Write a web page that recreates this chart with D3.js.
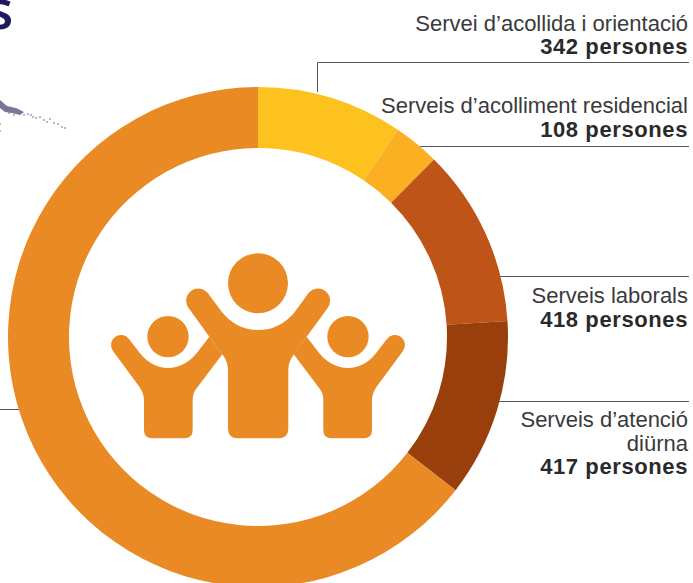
<!DOCTYPE html>
<html>
<head>
<meta charset="utf-8">
<script src="https://cdn.jsdelivr.net/npm/d3@7"></script>
<style>
  html, body { margin: 0; padding: 0; background: #fff; overflow: hidden; }
  text { font-family: "Liberation Sans Narrow", "Liberation Sans", sans-serif; fill: #3a3a3c; }
</style>
</head>
<body>
<div id="chart"></div>
<script>
const categories = [
  "Servei d’acollida i orientació",
  "Serveis d’acolliment residencial",
  "Serveis laborals",
  "Serveis d’atenció diürna",
  "Resta"
];
const persons = [342, 108, 418, 417, 2335];
const colors = ["#fec21f", "#fbb024", "#bf5419", "#983f0c", "#ea8a25"];

// label lines as they break in the original, one group per leader line
const labelNames = [
  ["Servei d’acollida i orientació"],
  ["Serveis d’acolliment residencial"],
  ["Serveis laborals"],
  ["Serveis d’atenció", "diürna"]
];
const labelValues = ["342 persones", "108 persones", "418 persones", "417 persones"];
const labelTops = [30.5, 113, 303, 427];

const width = 693;
const height = 583;
const center = { x: 258, y: 337 };

const svg = d3
  .select("#chart")
  .append("svg")
  .attr("width", width)
  .attr("height", height)
  .style("display", "block");

// title fragment cut by the page edge
svg
  .append("text")
  .attr("x", -13)
  .attr("y", 29)
  .style("font-family", "'Open Sans', sans-serif")
  .style("font-size", "54px")
  .style("font-weight", 600)
  .style("fill", "#1f1a5e")
  .text("s");

// brush stroke at the left edge
const brush = svg.append("g").attr("fill", "#7d7599");
brush
  .append("path")
  .attr("d", "M0,100 L7,106 L16,108 L24,112 L20,115 L12,113 L5,112 L0,108 Z");
const specks = [[9, 113], [14, 115], [24, 115], [28, 114], [31, 115], [33, 117], [36, 118], [40, 117], [44, 120], [47, 122], [50, 119], [54, 123], [58, 124], [62, 127], [65, 128], [0, 124], [0, 131]];
brush
  .selectAll("circle")
  .data(specks)
  .join("circle")
  .attr("cx", (d) => d[0])
  .attr("cy", (d) => d[1])
  .attr("r", 1)
  .attr("opacity", 0.7);

// leader lines go behind the ring
const leaders = [
  "M317.5,92 V62.5 H689",
  "M420,146.5 H689",
  "M495,276.5 H689",
  "M495,401.5 H689",
  "M0,409.5 H25"
];
svg
  .append("g")
  .selectAll("path")
  .data(leaders)
  .join("path")
  .attr("d", (d) => d)
  .attr("fill", "none")
  .attr("stroke", "#58585a")
  .attr("stroke-width", 1);

// ring
const pie = d3.pie().sort(null).value((d) => d);
const arc = d3.arc().innerRadius(189).outerRadius(250);

svg
  .append("g")
  .attr("transform", `translate(${center.x},${center.y})`)
  .selectAll("path")
  .data(pie(persons))
  .join("path")
  .attr("d", arc)
  .attr("fill", (d, i) => colors[i])
  .append("title")
  .text((d, i) => categories[i]);

// people icon, traced in 3x units
const icon = svg
  .append("g")
  .attr("transform", "translate(100,240) scale(0.3333)")
  .attr("fill", colors[4]);

icon.append("circle").attr("cx", 474).attr("cy", 130).attr("r", 90);
icon
  .append("path")
  .attr(
    "d",
    "M324,160 L365,215 Q410,270 474,270 Q540,270 585,215 L625,160 A36,36 0 0 1 683,204 L620,290 L582,343 Q565,365 565,390 L565,565 Q565,595 535,595 L414,595 Q384,595 384,565 L384,390 Q384,365 367,343 L328,290 L266,204 A36,36 0 0 1 324,160 Z"
  );

[false, true].forEach((mirror) => {
  const child = icon
    .append("g")
    .attr("transform", mirror ? "translate(948,0) scale(-1,1)" : null);
  child.append("circle").attr("cx", 204).attr("cy", 290).attr("r", 62);
  child
    .append("path")
    .attr(
      "d",
      "M87,297 L120,340 Q155,384 204,384 Q253,384 290,340 L328,290 L367,343 L290,445 Q278,460 278,480 L278,570 Q278,595 253,595 L157,595 Q132,595 132,570 L132,480 Q132,460 118,440 L39,333 A30,30 0 0 1 87,297 Z"
    );
});

// labels, right aligned
const lineHeight = 23.5;
labelNames.forEach((lines, i) => {
  lines.forEach((line, j) => {
    svg
      .append("text")
      .attr("x", 688)
      .attr("y", labelTops[i] + j * lineHeight)
      .attr("text-anchor", "end")
      .style("font-size", "22px")
      .text(line);
  });
  svg
    .append("text")
    .attr("x", 688)
    .attr("y", labelTops[i] + lines.length * lineHeight)
    .attr("text-anchor", "end")
    .style("font-size", "22px")
    .style("font-weight", 700)
    .style("letter-spacing", "0.6px")
    .style("fill", "#2a2a2c")
    .text(labelValues[i]);
});
</script>
</body>
</html>
